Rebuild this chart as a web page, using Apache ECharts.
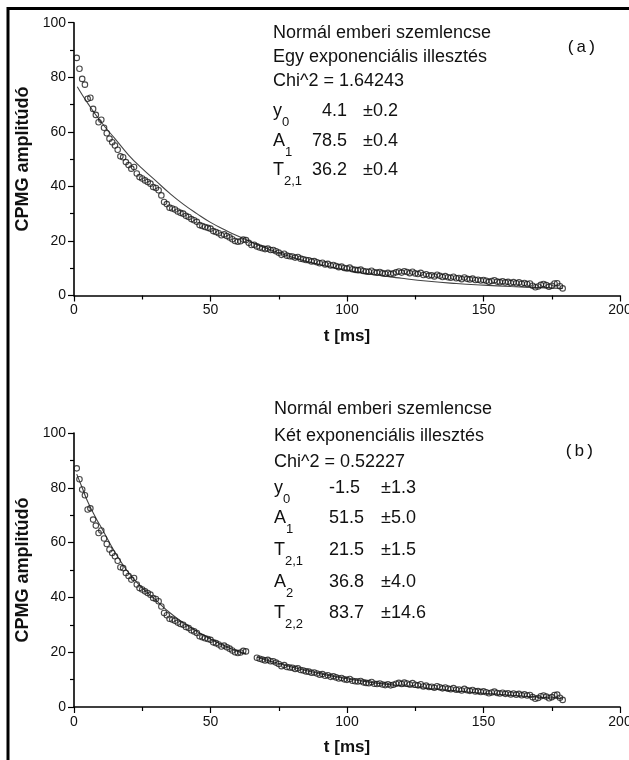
<!DOCTYPE html>
<html lang="hu">
<head>
    <meta charset="UTF-8">
    <title>CPMG</title>
    <script src="https://cdn.jsdelivr.net/npm/echarts@6/dist/echarts.min.js"></script>
    <style>
        html, body { margin: 0; padding: 0; background: #fff; }
        #main { width: 629px; height: 760px; }
    </style>
</head>
<body>
<div id="main"></div>
<script type="text/javascript">
    // mért CPMG amplitúdók, 1 ms-onként, t = 1 ... 179 ms (leolvasva az ábráról)
    var amplitude = [
        87.1, 83.1, 79.4, 77.3, 72.1, 72.5, 68.4, 66.2, 63.5, 64.4,
        61.5, 59.5, 57.5, 56.2, 55.0, 53.4, 51.0, 50.7, 48.9, 47.8,
        46.5, 47.1, 44.7, 43.4, 42.9, 42.2, 41.6, 41.0, 39.8, 39.4,
        38.6, 36.7, 34.3, 33.5, 32.2, 31.9, 31.5, 30.8, 30.3, 30.0,
        29.2, 28.8, 28.0, 27.6, 27.0, 25.8, 25.5, 25.1, 24.8, 24.5,
        23.6, 23.3, 22.8, 22.1, 22.4, 21.8, 21.3, 20.6, 20.0, 19.7,
        19.9, 20.5, 20.3, 19.3, 18.5, 18.6, 18.0, 17.6, 17.3, 17.0,
        17.2, 16.7, 16.7, 16.2, 15.7, 14.9, 15.3, 14.6, 14.4, 14.3,
        13.9, 14.1, 13.5, 13.3, 13.0, 12.9, 12.5, 12.6, 12.2, 11.8,
        12.0, 11.4, 11.6, 11.0, 11.2, 10.8, 10.4, 10.6, 10.1, 9.9,
        10.2, 9.6, 9.4, 9.3, 9.5, 9.0, 8.8, 8.7, 9.1, 8.5,
        8.4, 8.6, 8.2, 8.0, 8.3, 7.9, 8.1, 8.5, 8.8, 8.4,
        8.9, 8.6, 8.2, 8.7, 8.1, 7.9, 8.3, 7.5, 7.8, 7.3,
        7.4, 7.0, 7.6, 7.2, 6.8, 7.1, 6.7, 6.5, 6.9, 6.3,
        6.4, 6.0, 6.6, 6.1, 5.9, 6.2, 5.7, 5.8, 5.5, 5.7,
        5.4, 5.0, 5.3, 5.6, 5.1, 4.9, 5.2, 4.8, 5.0, 4.6,
        4.9, 4.5, 4.8, 4.3, 4.6, 4.2, 4.4, 3.6, 3.0, 3.3,
        3.9, 4.2, 3.8, 3.2, 3.6, 4.4, 4.5, 3.4, 2.6
    ];
    var firstT = 1;          // ms
    var echoStep = 1;        // ms
    var gapB = [64, 66];     // a (b) ábrán hiányzó szakasz, ms

    // illesztett görbék (leolvasott pontok)
    var fitA = [
        [1.2, 76.5], [5, 70.5], [10, 63.5], [15, 57.5], [20, 51.5], [25, 46.5],
        [30, 42], [35, 37.5], [40, 33.5], [45, 30], [50, 26.8], [55, 24.2],
        [60, 21.8], [70, 17.5], [80, 14], [90, 11.3], [100, 9.2], [110, 7.6],
        [120, 6.3], [130, 5.2], [140, 4.4], [150, 3.8], [160, 3.3], [170, 2.9], [179, 2.6]
    ];
    var fitB = [
        [1, 85], [3, 80], [5, 75], [8, 69], [10, 65.5], [15, 56.5], [20, 49],
        [25, 43.5], [30, 39], [35, 34.5], [40, 30.8], [45, 27.6], [50, 24.8],
        [55, 22.4], [60, 20.3], [63, 19.4], [65, '-'], [67, 18.2], [70, 17.3],
        [80, 14.5], [90, 12.2], [100, 10.3], [110, 8.8], [120, 7.7], [130, 6.7],
        [140, 5.8], [150, 5.0], [160, 4.3], [170, 3.6], [179, 3.0]
    ];

    var headerA = ['Normál emberi szemlencse', 'Egy exponenciális illesztés', 'Chi^2 = 1.64243'];
    var paramsA = [['y', '0', '4.1', '±0.2'], ['A', '1', '78.5', '±0.4'], ['T', '2,1', '36.2', '±0.4']];
    var headerB = ['Normál emberi szemlencse', 'Két exponenciális illesztés', 'Chi^2 = 0.52227'];
    var paramsB = [['y', '0', '-1.5', '±1.3'], ['A', '1', '51.5', '±5.0'], ['T', '2,1', '21.5', '±1.5'],
        ['A', '2', '36.8', '±4.0'], ['T', '2,2', '83.7', '±14.6']];

    var FONT = '"Liberation Sans", Arial, sans-serif';

    var seriesA = [], seriesB = [];
    for (var i = 0; i < amplitude.length; i++) {
        var t = firstT + i * echoStep;
        seriesA.push([t, amplitude[i]]);
        if (t < gapB[0] || t > gapB[1]) seriesB.push([t, amplitude[i]]);
    }

    var graphic = [
        // keret
        { type: 'line', shape: { x1: 8, y1: 7, x2: 8, y2: 760 }, style: { stroke: '#000', lineWidth: 3 } },
        { type: 'line', shape: { x1: 7, y1: 8.5, x2: 629, y2: 8.5 }, style: { stroke: '#000', lineWidth: 3 } }
    ];

    function txt(x, y, s, size, align, family) {
        graphic.push({
            type: 'text',
            style: {
                x: x, y: y, text: s, fill: '#111',
                font: size + 'px ' + (family || FONT),
                align: align || 'left', verticalAlign: 'middle'
            }
        });
    }

    function block(x, header, headerY, params, paramY, valX, valAlign, errX) {
        header.forEach(function (h, k) { txt(x, headerY[k], h, 18); });
        params.forEach(function (p, k) {
            var y = paramY[k];
            txt(x, y, p[0], 18);
            var w = p[0] === 'y' ? 9 : (p[0] === 'A' ? 12 : 11);
            txt(x + w, y + 11, p[1], 13);
            txt(valX, y, p[2], 18, valAlign);
            txt(errX, y, p[3], 18);
        });
    }

    block(273, headerA, [33, 57, 81], paramsA, [111, 141, 170], 347, 'right', 363);
    block(274, headerB, [409, 436, 462], paramsB, [488, 518, 550, 582, 613], 329, 'left', 381);
    txt(566, 47, '(a)', 17, 'left', '"Liberation Mono", "Courier New", monospace');
    txt(564, 451, '(b)', 17, 'left', '"Liberation Mono", "Courier New", monospace');

    function xAxisOf(idx) {
        return {
            type: 'value', gridIndex: idx, min: 0, max: 200, interval: 50,
            name: 't [ms]', nameLocation: 'middle', nameGap: 32,
            nameTextStyle: { fontFamily: FONT, fontSize: 17, fontWeight: 'bold', color: '#111' },
            axisLine: { onZero: false, lineStyle: { color: '#000', width: 1.6 } },
            axisTick: { length: 6, lineStyle: { color: '#000', width: 1.2 } },
            minorTick: { show: true, splitNumber: 2, length: 4, lineStyle: { color: '#000', width: 1.2 } },
            axisLabel: { fontFamily: FONT, fontSize: 14, color: '#111', margin: 8 },
            splitLine: { show: false }
        };
    }
    function yAxisOf(idx) {
        return {
            type: 'value', gridIndex: idx, min: 0, max: 100, interval: 20,
            name: 'CPMG amplitúdó', nameLocation: 'middle', nameGap: 40,
            nameTextStyle: { fontFamily: FONT, fontSize: 18, fontWeight: 'bold', color: '#111' },
            axisLine: { show: true, onZero: false, lineStyle: { color: '#000', width: 1.6 } },
            axisTick: { show: true, length: 6, lineStyle: { color: '#000', width: 1.2 } },
            minorTick: { show: true, splitNumber: 2, length: 4, lineStyle: { color: '#000', width: 1.2 } },
            axisLabel: { fontFamily: FONT, fontSize: 14, color: '#111', margin: 8 },
            splitLine: { show: false }
        };
    }

    function scatterOf(idx, data) {
        return {
            type: 'scatter', xAxisIndex: idx, yAxisIndex: idx, data: data,
            symbol: 'circle', symbolSize: 5.5,
            itemStyle: { color: 'rgba(0,0,0,0)', borderColor: '#1a1a1a', borderWidth: 1.1 },
            silent: true, z: 3
        };
    }
    function fitOf(idx, data) {
        return {
            type: 'line', xAxisIndex: idx, yAxisIndex: idx, data: data,
            smooth: true, showSymbol: false, connectNulls: false,
            lineStyle: { color: '#444', width: 1.1 }, silent: true, z: 2
        };
    }

    var myChart = echarts.init(document.getElementById('main'));
    var option = {
        animation: false,
        backgroundColor: '#fff',
        grid: [
            { left: 74, top: 22.7, width: 546, height: 272.8, outerBoundsMode: 'none' },
            { left: 74, top: 433, width: 546, height: 274, outerBoundsMode: 'none' }
        ],
        xAxis: [xAxisOf(0), xAxisOf(1)],
        yAxis: [yAxisOf(0), yAxisOf(1)],
        series: [fitOf(0, fitA), scatterOf(0, seriesA), fitOf(1, fitB), scatterOf(1, seriesB)],
        graphic: graphic
    };
    myChart.setOption(option);
</script>
</body>
</html>
